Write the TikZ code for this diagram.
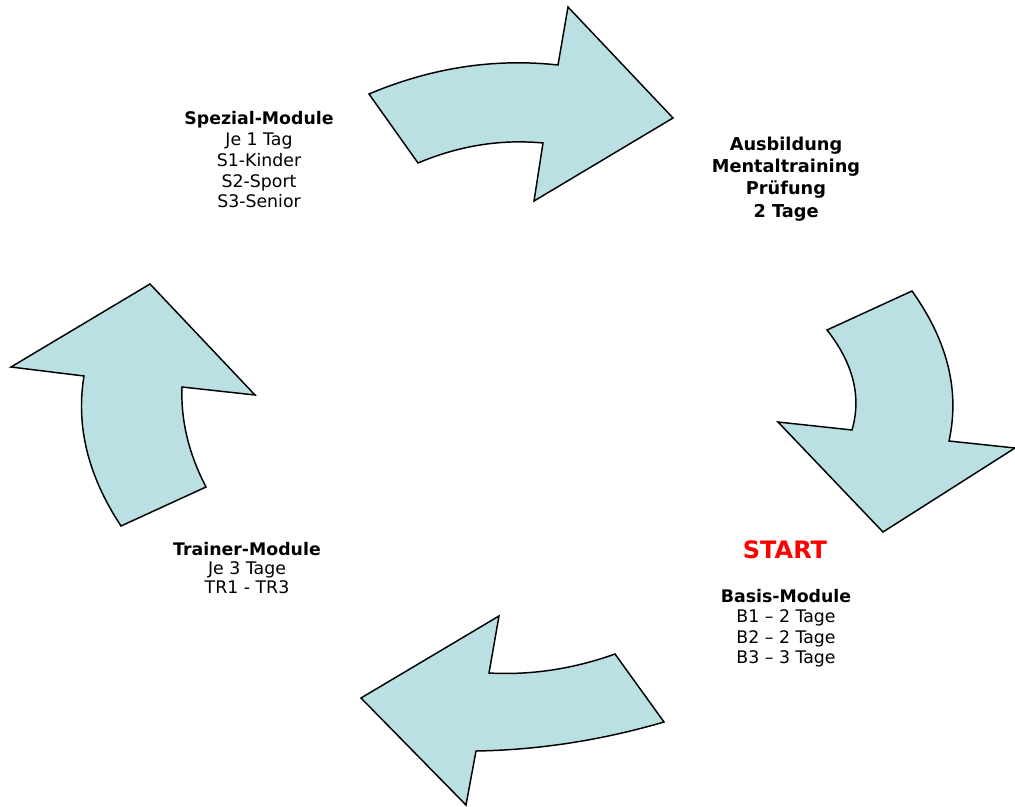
\documentclass[tikz,border=0pt]{standalone}
\usepackage{fontspec}
\setmainfont{DejaVu Sans}
\definecolor{arrowfill}{HTML}{BBE0E3}
\definecolor{startred}{HTML}{FF0000}
\begin{document}
\begin{tikzpicture}[x=0.75pt,y=-0.75pt,
  arrowshape/.style={draw=black, fill=arrowfill, line width=1.1pt, line join=miter},
  blocktext/.style={align=center, inner sep=0pt, anchor=north}]
\useasboundingbox (0,0) rectangle (1015,807);
% top arrow (pointing right)
\draw[arrowshape] (369,94) .. controls (431.3,67.7) and (494.3,58) .. (558,65) -- (568,7) -- (673,118)
  -- (534,201) -- (543,143) .. controls (500.7,139) and (459,145.7) .. (418,163) -- cycle;
% right arrow (pointing down)
\draw[arrowshape] (827,330) -- (912,291) .. controls (947.7,341) and (960,391) .. (949,441) -- (1015,448)
  -- (883,532) -- (778,422) -- (852,430) .. controls (861.7,396.7) and (853.3,363.3) .. (827,330) -- cycle;
% bottom arrow (pointing left)
\draw[arrowshape] (615,654) -- (664,722) .. controls (601.3,740.3) and (538.7,750) .. (476,751) -- (466,805)
  -- (361,698) -- (499,616) -- (489,673) .. controls (531,675.3) and (573,669) .. (615,654) -- cycle;
% left arrow (pointing up)
\draw[arrowshape] (121,526) -- (206,487) .. controls (188.7,453.7) and (180.7,420.3) .. (182,387) -- (255,395)
  -- (150,284) -- (11,367) -- (84,376) .. controls (75.7,426) and (88,476) .. (121,526) -- cycle;
% texts
\node[blocktext, font=\fontsize{13}{15.7}\selectfont] (spezial) at (259,110.8)
  {\textbf{Spezial-Module}\\Je 1 Tag\\S1-Kinder\\S2-Sport\\S3-Senior};
\node[blocktext, font=\fontsize{13.3}{16.7}\selectfont\bfseries] (ausbildung) at (786,136.5)
  {Ausbildung\\Mentaltraining\\Prüfung\\2 Tage};
\node[inner sep=0pt, anchor=base, font=\fontsize{18}{21}\selectfont\bfseries, text=startred] (start) at (785,558) {START};
\node[blocktext, font=\fontsize{13}{15.4}\selectfont] (basis) at (786,588.8)
  {\textbf{Basis-Module}\\B1 – 2 Tage\\B2 – 2 Tage\\B3 – 3 Tage};
\node[blocktext, font=\fontsize{13}{14.5}\selectfont] (trainer) at (247,541.8)
  {\textbf{Trainer-Module}\\Je 3 Tage\\TR1 - TR3};
\end{tikzpicture}
\end{document}
